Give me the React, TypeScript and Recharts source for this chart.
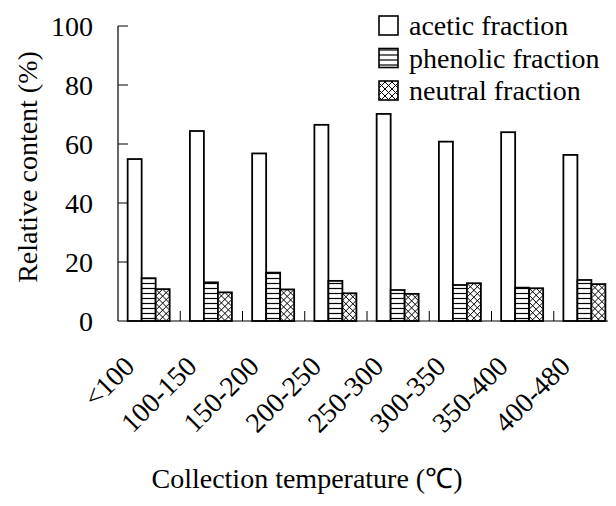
import React from 'react';
import { BarChart, Bar, XAxis, YAxis } from 'recharts';

const categories = ['<100', '100-150', '150-200', '200-250', '250-300', '300-350', '350-400', '400-480'];
const aceticValues = [54.9, 64.4, 56.8, 66.5, 70.2, 60.8, 64.0, 56.3];
const phenolicValues = [14.5, 13.1, 16.4, 13.6, 10.5, 12.2, 11.3, 13.9];
const neutralValues = [10.8, 9.7, 10.7, 9.4, 9.2, 12.8, 11.1, 12.5];
const yTicks = [0, 20, 40, 60, 80, 100];

const FONT = 'Liberation Serif';
const W = 616;
const H = 506;
const LEFT = 118;
const TOP = 26;
const PLOT_W = W - LEFT;
const BAND = PLOT_W / categories.length;

const series = [
  { key: 'acetic', name: 'acetic fraction', hatch: 'none' },
  { key: 'phenolic', name: 'phenolic fraction', hatch: 'lines' },
  { key: 'neutral', name: 'neutral fraction', hatch: 'cross' },
];

const data = categories.map((c, i) => ({
  name: c,
  acetic: aceticValues[i],
  phenolic: phenolicValues[i],
  neutral: neutralValues[i],
}));

// hatched box: white rect, black outline, hatch lines cut to the box
function hatchBox(x: number, y: number, w: number, h: number, hatch: string, sw: number) {
  const x1 = x + w;
  const y1 = y + h;
  const lines: any[] = [];
  if (hatch === 'lines') {
    for (let yy = y1 - 2.5; yy > y; yy -= 5) {
      lines.push(<line key={'h' + yy} x1={x} x2={x1} y1={yy} y2={yy} stroke="#000" strokeWidth={1.2} />);
    }
  } else if (hatch === 'cross') {
    const s = 7;
    for (let c = y - x1; c <= y1 - x; c += s) {
      const a = Math.max(x, y - c);
      const b = Math.min(x1, y1 - c);
      if (b > a) lines.push(<line key={'d' + c} x1={a} y1={a + c} x2={b} y2={b + c} stroke="#000" strokeWidth={1} />);
    }
    for (let c = x + y; c <= x1 + y1; c += s) {
      const a = Math.max(x, c - y1);
      const b = Math.min(x1, c - y);
      if (b > a) lines.push(<line key={'e' + c} x1={a} y1={c - a} x2={b} y2={c - b} stroke="#000" strokeWidth={1} />);
    }
  }
  return (
    <g>
      <rect x={x} y={y} width={w} height={h} fill="#fff" />
      {lines}
      <rect x={x} y={y} width={w} height={h} fill="none" stroke="#000" strokeWidth={sw} />
    </g>
  );
}

const makeShape = (hatch: string) => (props: any) => {
  const { x, y, width, height } = props;
  if (!height || height <= 0) return <g />;
  return hatchBox(x, y, width, height, hatch, 1.8);
};

const XTick = (props: any) => {
  const { x, y, payload, index } = props;
  const ax = x - 13;
  const ay = y + 47;
  return (
    <g>
      {index > 0 && (
        <line x1={x - BAND / 2} x2={x - BAND / 2} y1={y - 10} y2={y} stroke="#000" strokeWidth={1} />
      )}
      <text
        x={ax}
        y={ay}
        transform={`rotate(-45, ${ax}, ${ay})`}
        textAnchor="end"
        fontFamily={FONT}
        fontSize={28}
      >
        {payload.value}
      </text>
    </g>
  );
};

const YTick = (props: any) => {
  const { x, y, payload } = props;
  return (
    <g>
      {payload.value !== 0 && <line x1={x} x2={x + 10} y1={y} y2={y} stroke="#000" strokeWidth={1} />}
      <text x={x - 25} y={y + 10} textAnchor="end" fontFamily={FONT} fontSize={28}>
        {payload.value}
      </text>
    </g>
  );
};

const LegendBox = () => (
  <svg width={246} height={110} style={{ position: 'absolute', left: 370, top: 0 }}>
    {series.map((s, i) => (
      <g key={s.key}>
        {hatchBox(9, 16 + i * 32.5, 19, 19, s.hatch, 1.6)}
        <text x={39} y={35 + i * 32.5} fontFamily={FONT} fontSize={28}>
          {s.name}
        </text>
      </g>
    ))}
  </svg>
);

export default function App() {
  return (
    <div style={{ width: W, height: H, background: '#fff', position: 'relative', margin: -8 }}>
      <BarChart
        width={W}
        height={H}
        data={data}
        margin={{ top: TOP, right: 0, bottom: 0, left: 0 }}
        barCategoryGap="15.5%"
        barGap={0}
      >
        <XAxis
          dataKey="name"
          height={185}
          tickSize={0}
          tickMargin={0}
          tickLine={false}
          axisLine={{ stroke: '#000', strokeWidth: 1.2 }}
          tick={<XTick />}
          interval={0}
          label={{
            content: () => (
              <text x={307} y={488} textAnchor="middle" fontFamily={FONT} fontSize={28}>
                Collection temperature (℃)
              </text>
            ),
          }}
        />
        <YAxis
          type="number"
          domain={[0, 100]}
          ticks={yTicks}
          width={LEFT}
          tickSize={0}
          tickMargin={0}
          tickLine={false}
          axisLine={{ stroke: '#000', strokeWidth: 1.2 }}
          tick={<YTick />}
          interval={0}
          label={{
            content: () => (
              <text x={37} y={167} transform="rotate(-90, 37, 167)" textAnchor="middle" fontFamily={FONT} fontSize={28}>
                Relative content (%)
              </text>
            ),
          }}
        />
        {series.map((s) => (
          <Bar
            key={s.key}
            dataKey={s.key}
            name={s.name}
            fill="#fff"
            shape={makeShape(s.hatch)}
            isAnimationActive={false}
          />
        ))}
      </BarChart>
      <LegendBox />
    </div>
  );
}
